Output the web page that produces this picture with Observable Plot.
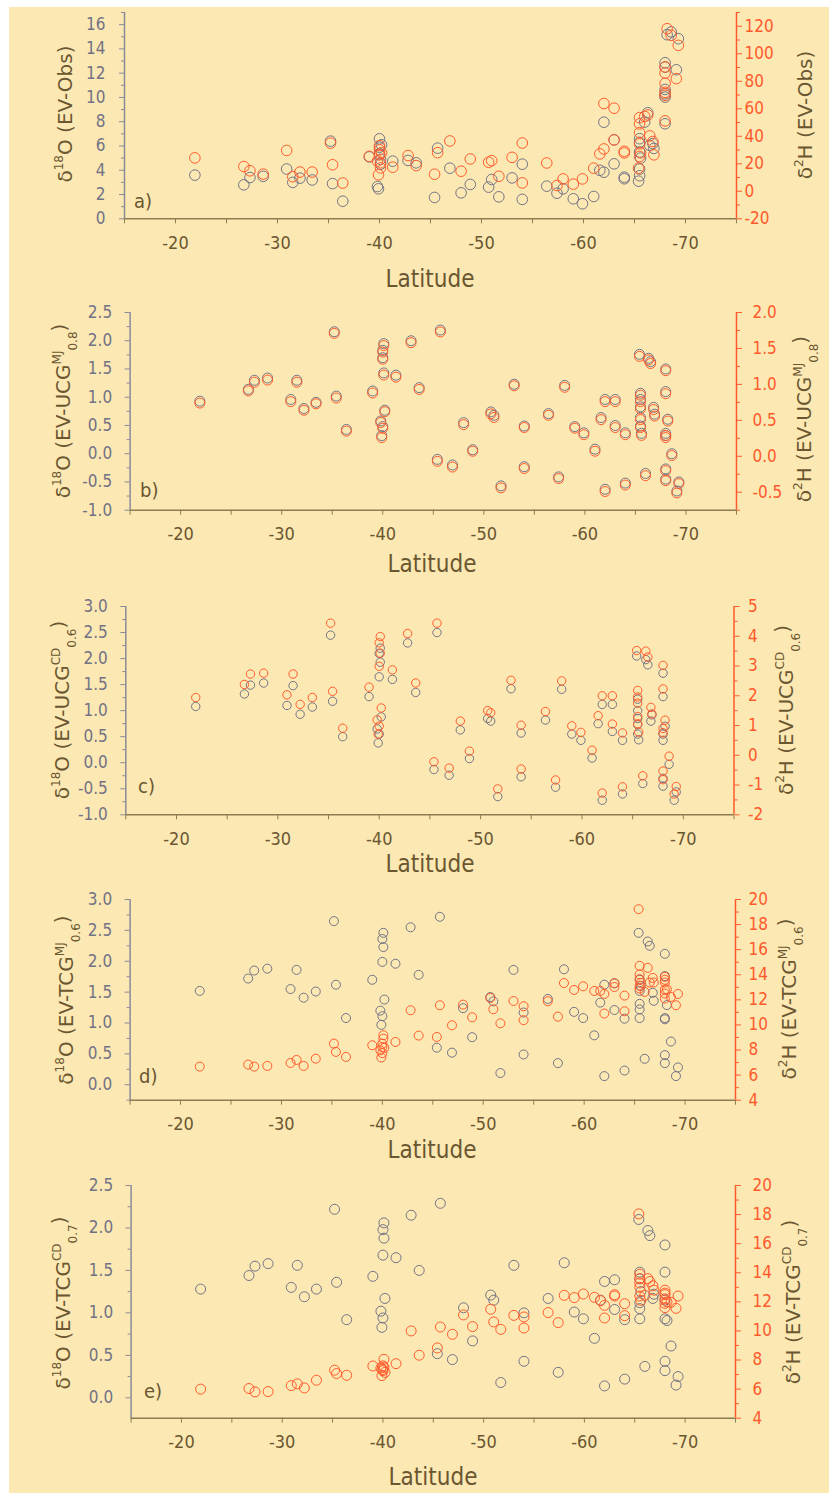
<!DOCTYPE html>
<html><head><meta charset="utf-8">
<script src="https://cdn.jsdelivr.net/npm/d3@7"></script>
<script src="https://cdn.jsdelivr.net/npm/@observablehq/plot@0.6"></script>
<style>
body{margin:0;background:#fff;}
#root{position:relative;width:829px;height:1493px;overflow:hidden;background:#fff}
#bg{position:absolute;left:9px;top:7px;width:820px;height:1486px;background:#FCE8B3}
#root svg{position:absolute;left:0}
</style></head><body><div id="root"><div id="bg"></div></div>
<script>
// Station latitudes (shared by all panels)
const lat = [-21.9,-26.7,-27.3,-28.6,-30.9,-31.5,-32.2,-33.4,-35.2,-35.4,-36.4,-39.0,-39.8,-39.9,-40.0,-40.0,-40.0,-40.1,-40.1,-40.2,-41.3,-42.8,-43.6,-45.4,-45.7,-46.9,-48.0,-48.9,-50.7,-51.0,-51.7,-53.0,-54.0,-54.0,-56.4,-57.4,-58.0,-59.0,-59.9,-61.0,-61.6,-62.0,-62.0,-63.0,-63.0,-64.0,-64.0,-65.4,-65.5,-65.5,-65.5,-65.5,-65.5,-65.6,-66.0,-66.3,-66.5,-66.8,-66.9,-68.0,-68.0,-68.0,-68.0,-68.0,-68.0,-68.2,-68.6,-69.1,-69.3];

// a) EV-Obs
const aO = [3.6,2.8,3.4,3.5,4.1,3.0,3.35,3.2,6.4,2.9,1.45,5.1, 2.66,2.47,6.59,5.9,5.36,4.9,4.5,6.1, 4.75,4.81,4.61, 1.76,5.82,4.17,2.14,2.83,2.61,3.24,1.81,3.37,4.5,1.6, 2.69,2.11,2.47,1.65,1.24,1.84,4.0, 3.84,7.96,4.53,6.5,3.43,3.3, 3.1,3.55,4.1,5.5,6.6,6.3,5.0, 7.97,8.74,6.05,6.2,5.8, 12.86,10.66,10.03,7.83,12.5,10.3, 15.17,15.4,12.28,14.84];
const aH = [24.3,18.0,14.9,12.5,29.7,10.6,14.0,14.0,35.0,19.3,6.0,25.4, 22.0,12.0,33.2,30.1,26.5,20.7,17.0,28.0, 17.5,26.0,18.7, 12.4,28.1,36.6,14.6,23.5,21.1,22.3,10.9,24.7,35.1,6.1, 20.6,4.2,9.0,5.2,9.0,16.8,27.2, 30.8,63.8,60.4,37.4,29.1,27.9, 16.8,25.3,34.5,42.7,49.0,53.6,28.0, 54.4,55.5,40.3,36.2,26.5, 90.4,78.5,69.8,51.2,86.0,72.0, 118.2,113.4,81.9,106.1];

// b) EV-UCG^MJ_0.8
const bO = [0.93,1.14,1.30,1.34,0.96,1.30,0.80,0.91,2.16,1.02,0.43,1.11, 0.58,0.32,0.48,1.70,1.83,1.95,1.43,0.77, 1.39,2.0,1.17, -0.10,2.19,-0.20,0.55,0.07,0.74,0.68,-0.57,1.23,0.49,-0.23, 0.71,-0.41,1.21,0.48,0.37,0.08,0.64, 0.96,-0.63,0.96,0.50,0.37,-0.52, 1.76,1.07,0.96,0.83,0.64,0.49,0.36, -0.35,1.69,1.63,0.82,0.70, 1.50,1.10,0.36,0.32,-0.27,-0.45, 0.61,0.0,-0.66,-0.50];
const bH = [0.74,0.91,1.03,1.06,0.76,1.03,0.64,0.73,1.71,0.81,0.35,0.88, 0.47,0.26,0.39,1.35,1.45,1.54,1.13,0.62, 1.10,1.58,0.93, -0.07,1.73,-0.15,0.44,0.07,0.59,0.54,-0.44,0.98,0.40,-0.17, 0.57,-0.31,0.96,0.39,0.30,0.07,0.51, 0.76,-0.49,0.76,0.40,0.30,-0.40, 1.39,0.85,0.76,0.66,0.51,0.40,0.29, -0.27,1.34,1.29,0.65,0.56, 1.19,0.87,0.29,0.26,-0.20,-0.34, 0.49,0.01,-0.51,-0.38];

// c) EV-UCG^CD_0.6
const cO = [1.08,1.32,1.49,1.53,1.10,1.48,0.93,1.07,2.45,1.18,0.50,1.27, 0.65,0.38,0.55,1.65,2.10,2.20,1.93,0.88, 1.60,2.30,1.35, -0.13,2.50,-0.24,0.63,0.08,0.85,0.80,-0.65,1.42,0.57,-0.27, 0.82,-0.47,1.41,0.55,0.43,0.09,0.75, 1.12,-0.72,1.12,0.60,0.43,-0.60, 2.05,1.22,1.00,0.85,0.73,0.55,0.44, -0.40,1.98,1.88,0.80,0.92, 1.72,1.27,0.43,0.55,-0.45,-0.30, 0.70,-0.03,-0.72,-0.56];
const cH = [1.94,2.38,2.73,2.76,2.03,2.73,1.71,1.94,4.44,2.15,0.91,2.29, 1.19,0.71,0.98,2.99,3.78,3.99,3.43,1.59, 2.87,4.09,2.43, -0.22,4.44,-0.43,1.15,0.14,1.50,1.43,-1.13,2.52,1.01,-0.46, 1.47,-0.83,2.50,0.99,0.77,0.17,1.33, 2.00,-1.27,2.00,1.05,0.75,-1.06, 3.52,2.18,1.96,1.75,1.30,1.06,0.78, -0.69,3.50,3.30,1.61,1.39, 3.02,2.23,0.76,0.90,-0.82,-0.53, 1.18,-0.03,-1.30,-1.05];

// d) EV-TCG^MJ_0.6
const dO = [1.52,1.72,1.85,1.88,1.55,1.86,1.41,1.51,2.65,1.62,1.08,1.70, 1.20,0.97,1.11,1.99,2.36,2.46,2.23,1.38, 1.96,2.55,1.78, 0.60,2.72,0.52,1.24,0.77,1.42,1.35,0.19,1.86,1.17,0.49, 1.39,0.35,1.87,1.18,1.08,0.80,1.33, 1.62,0.14,1.64,1.21,1.07,0.23, 2.46,1.70,1.52,1.31,1.22,1.08,1.60, 0.42,2.32,2.25,1.49,1.36, 2.12,1.76,1.08,1.06,0.48,0.35, 1.29,0.70,0.14,0.28];
const dH = [6.68,6.84,6.68,6.73,6.97,7.21,6.73,7.31,8.51,7.85,7.45,8.38, 7.98,7.40,7.75,8.24,8.50,9.18,8.90,8.17, 8.64,11.17,9.15, 9.04,11.57,9.97,11.62,10.61,12.15,11.25,10.13,11.91,11.49,10.38, 11.89,10.66,13.34,12.79,13.08,12.71,12.71, 12.47,10.91,13.34,13.02,12.34,11.09, 19.23,14.71,14.02,13.65,13.12,12.90,13.35, 12.63,14.55,13.38,13.75,13.38, 13.83,13.38,12.82,12.10,13.60,12.50, 12.84,12.23,11.57,12.47];

// e) EV-TCG^CD_0.7
const eO = [1.28,1.44,1.55,1.58,1.30,1.56,1.19,1.28,2.22,1.36,0.92,1.43, 1.02,0.83,0.94,1.68,1.98,2.06,1.88,1.17, 1.65,2.15,1.50, 0.52,2.29,0.45,1.06,0.67,1.21,1.15,0.18,1.56,1.00,0.43, 1.17,0.30,1.59,1.01,0.93,0.70,1.15, 1.37,0.14,1.39,1.04,0.92,0.22, 2.10,1.48,1.12,1.05,0.93,1.40,1.25, 0.37,1.97,1.91,1.17,1.22, 1.80,1.48,0.93,0.43,0.32,1.15, 0.91,0.61,0.15,0.25];
const eH = [6.00,6.04,5.81,5.83,6.24,6.36,6.08,6.61,7.30,7.07,6.95,7.59, 7.45,6.93,7.27,7.60,7.35,8.05,7.50,7.15, 7.75,10.00,8.33, 8.83,10.27,9.77,11.10,10.30,11.49,10.62,10.11,11.07,10.96,10.20, 11.26,10.57,12.45,12.29,12.54,12.31,12.08, 11.76,10.89,12.49,12.40,11.87,11.05, 18.05,13.90,13.60,13.30,13.00,12.40,12.10, 12.45,13.60,13.40,13.10,12.80, 12.80,12.50,12.20,11.90,12.60,11.60, 12.00,11.97,11.55,12.40];

// tick values
const xMajor = [-20,-30,-40,-50,-60,-70];
const xMinor = [-15,-25,-35,-45,-55,-65,-75];

const GRAY = "#727285", RED = "#FF5A2C", BROWN = "#6A5630", AXBROWN = "#8C7C52", GRAYAX = "#8A8A9A";
const NARROW = "'Liberation Sans Narrow','DejaVu Sans Condensed','Arial Narrow',sans-serif";
const TITLEF = "'DejaVu Sans',Verdana,sans-serif";

const panels = [
  {id:"a", O:aO, H:aH, top:11.7, bottom:218, left:124, right:736, r:5.3,
   yL:[0,17], lMaj:[0,2,4,6,8,10,12,14,16], lMin:[1,3,5,7,9,11,13,15,17], lFmt:d=>String(d),
   yR:[-20,130], rMaj:[-20,0,20,40,60,80,100,120], rMin:[-10,10,30,50,70,90,110,130], rFmt:d=>String(d),
   lPad:14, rPad:3},
  {id:"b", O:bO, H:bH, top:312.3, bottom:510, left:129.6, right:736, r:5,
   yL:[-1,2.5], lMaj:[-1,-0.5,0,0.5,1,1.5,2,2.5], lMin:[-0.75,-0.25,0.25,0.75,1.25,1.75,2.25], lFmt:d=>d.toFixed(1),
   yR:[-0.75,2], rMaj:[-0.5,0,0.5,1,1.5,2], rMin:[-0.75,-0.25,0.25,0.75,1.25,1.75], rFmt:d=>d.toFixed(1),
   lPad:13, rPad:11},
  {id:"c", O:cO, H:cH, top:606, bottom:814.3, left:125.3, right:733.5, r:4.2,
   yL:[-1,3], lMaj:[-1,-0.5,0,0.5,1,1.5,2,2.5,3], lMin:[-0.75,-0.25,0.25,0.75,1.25,1.75,2.25,2.75], lFmt:d=>d.toFixed(1),
   yR:[-2,5], rMaj:[-2,-1,0,1,2,3,4,5], rMin:[-1.5,-0.5,0.5,1.5,2.5,3.5,4.5], rFmt:d=>String(d),
   lPad:13, rPad:9},
  {id:"d", O:dO, H:dH, top:899.3, bottom:1100, left:129.6, right:735, r:4.5,
   yL:[-0.25,3], lMaj:[0,0.5,1,1.5,2,2.5,3], lMin:[-0.25,0.25,0.75,1.25,1.75,2.25,2.75], lFmt:d=>d.toFixed(1),
   yR:[4,20], rMaj:[4,6,8,10,12,14,16,18,20], rMin:[5,7,9,11,13,15,17,19], rFmt:d=>String(d),
   lPad:13, rPad:8},
  {id:"e", O:eO, H:eH, top:1185, bottom:1417.7, left:130.6, right:735, r:5,
   yL:[-0.24,2.5], lMaj:[0,0.5,1,1.5,2,2.5], lMin:[0.25,0.75,1.25,1.75,2.25], lFmt:d=>d.toFixed(1),
   yR:[4,20], rMaj:[4,6,8,10,12,14,16,18,20], rMin:[5,7,9,11,13,15,17,19], rFmt:d=>String(d),
   lPad:13, rPad:12}
];

const root = document.getElementById("root");
const MT = 12, MB = 40;

for (const p of panels) {
  const h = p.bottom - p.top + MT + MB;
  const common = {
    width: 829, height: h, marginTop: MT, marginBottom: MB,
    marginLeft: p.left, marginRight: 829 - p.right,
    style: {background: "transparent", overflow: "visible", fontFamily: NARROW},
  };
  const dataO = lat.map((x, i) => ({x, y: p.O[i]}));
  const dataH = lat.map((x, i) => ({x, y: p.H[i]}));
  const pL = Plot.plot({
    ...common,
    x: {domain: [-15, -75], axis: null},
    y: {domain: p.yL, axis: null},
    marks: [
      Plot.axisX({ticks: xMajor, tickSize: 5, tickPadding: 12, tickFormat: d => String(d), fontSize: 18, fill: BROWN, stroke: AXBROWN, label: null}),
      Plot.axisX({ticks: xMinor, tickSize: 5, tickFormat: () => "", stroke: AXBROWN, label: null}),
      Plot.axisY({ticks: p.lMaj, tickSize: 5, tickPadding: p.lPad, tickFormat: p.lFmt, fontSize: 17, fill: GRAY, stroke: GRAYAX, label: null}),
      Plot.axisY({ticks: p.lMin, tickSize: 3, tickFormat: () => "", stroke: GRAYAX, label: null}),
      Plot.ruleX([-15], {stroke: GRAYAX, strokeWidth: 1.5}),
      Plot.ruleY([p.yL[0]], {stroke: AXBROWN, strokeWidth: 1.5}),
      Plot.dot(dataO, {x: "x", y: "y", r: p.r, stroke: GRAY, strokeWidth: 1})
    ]
  });
  const pR = Plot.plot({
    ...common,
    x: {domain: [-15, -75], axis: null},
    y: {domain: p.yR, axis: null},
    marks: [
      Plot.axisY({anchor: "right", ticks: p.rMaj, tickSize: 5, tickPadding: p.rPad, tickFormat: p.rFmt, fontSize: 17, fill: RED, stroke: RED, label: null}),
      Plot.axisY({anchor: "right", ticks: p.rMin, tickSize: 3, tickFormat: () => "", stroke: RED, label: null}),
      Plot.ruleX([-75], {stroke: RED, strokeWidth: 1.5}),
      Plot.dot(dataH, {x: "x", y: "y", r: p.r, stroke: RED, strokeWidth: 1})
    ]
  });
  for (const s of [pL, pR]) {
    s.style.top = (p.top - MT) + "px";
    root.appendChild(s);
  }
}

// Annotation overlay: axis titles, panel letters, x-axis titles
const ov = d3.select(root).append("svg")
  .attr("width", 829).attr("height", 1493)
  .style("top", "0px").style("pointer-events", "none");

const titles = [
  {iso: "18", el: "O", body: "EV-Obs", sup: null, sub: null, side: "L", x: 65, y: 114},
  {iso: "2", el: "H", body: "EV-Obs", sup: null, sub: null, side: "R", x: 805, y: 115},
  {iso: "18", el: "O", body: "EV-UCG", sup: "MJ", sub: "0.8", x: 63, y: 411},
  {iso: "2", el: "H", body: "EV-UCG", sup: "MJ", sub: "0.8", x: 804, y: 419},
  {iso: "18", el: "O", body: "EV-UCG", sup: "CD", sub: "0.6", x: 62, y: 710},
  {iso: "2", el: "H", body: "EV-UCG", sup: "CD", sub: "0.6", x: 786, y: 710},
  {iso: "18", el: "O", body: "EV-TCG", sup: "MJ", sub: "0.6", x: 66, y: 1000},
  {iso: "2", el: "H", body: "EV-TCG", sup: "MJ", sub: "0.6", x: 789, y: 999},
  {iso: "18", el: "O", body: "EV-TCG", sup: "CD", sub: "0.7", x: 63, y: 1303},
  {iso: "2", el: "H", body: "EV-TCG", sup: "CD", sub: "0.7", x: 793, y: 1302}
];
for (const t of titles) {
  const tx = ov.append("text")
    .attr("transform", `translate(${t.x},${t.y}) rotate(-90)`)
    .attr("text-anchor", "middle").attr("dy", "0.36em")
    .attr("fill", BROWN).attr("font-family", TITLEF).attr("font-size", 20);
  tx.append("tspan").text("δ");
  tx.append("tspan").attr("font-size", 12).attr("dy", "-0.75em").text(t.iso);
  tx.append("tspan").attr("dy", "0.45em").text(t.el + " (" + t.body);
  if (t.sup) {
    tx.append("tspan").attr("font-size", 12).attr("dy", "-0.75em").text(t.sup);
    tx.append("tspan").attr("font-size", 12).attr("dy", "1.3em").text(t.sub);
    tx.append("tspan").attr("dy", "-0.55em").text(")");
  } else {
    tx.append("tspan").text(")");
  }
}

const letters = [["a)",134,208],["b)",140,497],["c)",138,793],["d)",139,1083],["e)",144,1398]];
for (const [s,x,y] of letters) {
  ov.append("text").attr("x", x).attr("y", y).attr("fill", BROWN)
    .attr("font-family", NARROW).attr("font-size", 20).text(s);
}
const latLabels = [[430,287],[432,572],[430,872],[432,1158],[433,1485]];
for (const [x,y] of latLabels) {
  ov.append("text").attr("x", x).attr("y", y).attr("text-anchor", "middle").attr("fill", BROWN)
    .attr("font-family", NARROW).attr("font-size", 24).text("Latitude");
}
</script></body></html>
